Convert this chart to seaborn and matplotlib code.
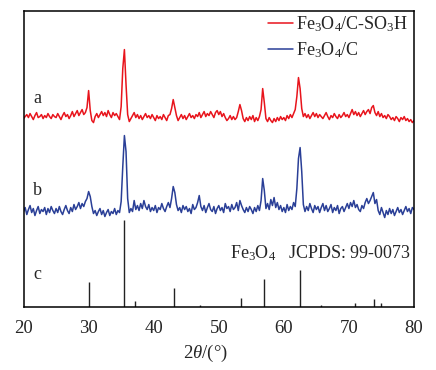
import numpy as np
import pandas as pd
import seaborn as sns
import matplotlib
matplotlib.use("Agg")
import matplotlib.pyplot as plt

# 2theta grid (0.25 deg step)
two_theta = np.arange(20, 80.001, 0.25)

# Fe3O4/C-SO3H trace (offset intensity)
red_vals = [
    188, 190, 192, 189, 193, 190, 187, 191, 194, 189, 190, 192, 188, 191, 189, 193, 190, 188, 192, 190,
    189, 193, 190, 187, 191, 194, 190, 192, 188, 191, 195, 190, 193, 196, 191, 194, 197, 192, 194, 199,
    216, 196, 186, 184, 190, 193, 189, 192, 195, 191, 194, 190, 196, 192, 189, 194, 191, 193, 190, 187,
    200, 238, 257, 222, 192, 185, 188, 191, 194, 189, 192, 188, 191, 187, 190, 193, 189, 191, 188, 192,
    189, 186, 191, 188, 190, 187, 192, 189, 186, 191, 192, 198, 207, 199, 191, 186, 189, 192, 188, 191,
    187, 190, 193, 189, 191, 188, 192, 190, 194, 189, 192, 195, 190, 193, 191, 195, 192, 189, 194, 196,
    192, 195, 190, 193, 189, 186, 188, 191, 187, 190, 187, 189, 195, 202, 196, 188, 185, 189, 186, 190,
    187, 191, 185, 189, 186, 190, 197, 218, 204, 188, 185, 189, 186, 184, 188, 185, 189, 186, 190, 187,
    189, 186, 191, 188, 192, 189, 193, 197, 210, 229, 218, 198, 190, 193, 189, 192, 188, 191, 194, 190,
    193, 189, 192, 190, 188, 191, 194, 190, 187, 191, 189, 193, 190, 188, 192, 189, 191, 194, 190, 192,
    189, 193, 197, 192, 195, 191, 194, 190, 193, 196, 192, 195, 197, 193, 199, 201, 194, 191, 195, 190,
    193, 189, 191, 188, 192, 190, 187, 189, 186, 190, 188, 185, 189, 187, 190, 186, 188, 185, 187, 184, 186,
]

# Fe3O4/C trace
blue_vals = [
    95, 99, 92, 97, 101, 94, 98, 91, 96, 100, 93, 97, 95, 99, 92, 98, 94, 100, 96, 93,
    98, 94, 100, 95, 92, 97, 101, 96, 93, 99, 95, 102, 97, 100, 104, 98, 103, 100, 105, 108,
    115, 110, 100, 93, 96, 91, 95, 98, 92, 96, 90, 94, 97, 91, 95, 93, 98, 92, 96, 94,
    105, 140, 171, 155, 108, 94, 98, 95, 106, 97, 101, 96, 103, 98, 106, 100, 97, 102, 95, 99,
    96, 101, 94, 99, 97, 103, 98, 95, 100, 104, 99, 108, 120, 114, 102, 96, 99, 94, 101, 97,
    100, 95, 98, 93, 102, 97, 99, 104, 111, 100, 96, 101, 94, 99, 103, 97, 95, 100, 93, 98,
    101, 96, 99, 94, 103, 98, 100, 95, 102, 97, 99, 104, 96, 106, 101, 97, 94, 99, 95, 100,
    97, 93, 99, 95, 101, 96, 106, 128, 116, 98, 103, 97, 107, 101, 109, 99, 104, 97, 101, 95,
    99, 94, 102, 96, 100, 97, 104, 100, 118, 148, 159, 135, 102, 95, 100, 96, 103, 98, 94, 101,
    97, 100, 94, 99, 103, 96, 101, 95, 98, 102, 94, 99, 96, 101, 93, 98, 100, 95, 99, 103,
    98, 104, 100, 106, 99, 102, 97, 95, 101, 98, 104, 108, 103, 106, 110, 114, 103, 107, 96, 92,
    99, 94, 89, 96, 92, 98, 93, 97, 91, 95, 99, 94, 97, 92, 96, 100, 95, 98, 93, 99, 97,
]

# JCPDS 99-0073 reference lines
ref_pos = [30.1, 35.45, 37.1, 43.05, 47.1, 53.4, 56.95, 62.5, 65.7, 70.9, 73.9, 74.9]
ref_int = [25, 87, 6, 19, 1.5, 9, 28, 37, 1.5, 4, 8, 4]

df = pd.DataFrame({"2theta": two_theta, "red": red_vals, "blue": blue_vals})

sns.set_style("white")
plt.rcParams["font.family"] = ["Liberation Serif", "DejaVu Serif"]
plt.rcParams["mathtext.fontset"] = "custom"
plt.rcParams["mathtext.rm"] = "Liberation Serif"
plt.rcParams["mathtext.it"] = "Liberation Serif:italic"

fig = plt.figure(figsize=(4.36, 3.70), dpi=100)
ax = fig.add_axes([0.054, 0.1716, 0.8955, 0.7984])

sns.lineplot(data=df, x="2theta", y="red", color="#e8141c", lw=1.1, ax=ax,
             label=r"Fe$_3$O$_4$/C-SO$_3$H")
sns.lineplot(data=df, x="2theta", y="blue", color="#2a3f97", lw=1.1, ax=ax,
             label=r"Fe$_3$O$_4$/C")
ax.vlines(ref_pos, 0, ref_int, color="#222222", lw=1.0)

ax.set_xlim(20, 80)
ax.set_ylim(0, 295.5)
ax.set_xticks([20, 30, 40, 50, 60, 70, 80])
ax.set_yticks([])
ax.tick_params(axis="x", direction="in", length=3, width=0.8, labelsize=13.5, pad=10)
for s in ax.spines.values():
    s.set_color("black")
    s.set_linewidth(1.1)

ax.set_xlabel(r"2$\it{\theta}$/(°)", fontsize=13.5)
ax.xaxis.set_label_coords(0.465, -0.122)
ax.set_ylabel("")

ax.text(22.1, 208.5, "a", fontsize=13, va="center", ha="center")
ax.text(22.2, 116.5, "b", fontsize=13, va="center", ha="center")
ax.text(22.2, 32.5, "c", fontsize=13, va="center", ha="center")
ax.text(51.7, 53.8, r"Fe$_3$O$_4$   JCPDS: 99-0073", fontsize=13, va="center", ha="left")

ax.legend(loc="upper right", bbox_to_anchor=(0.995, 1.0), frameon=False, fontsize=13,
          handlelength=1.4, handletextpad=0.15, labelspacing=0.3, borderpad=0.2,
          borderaxespad=0)

fig.savefig("out.png", dpi=100)
